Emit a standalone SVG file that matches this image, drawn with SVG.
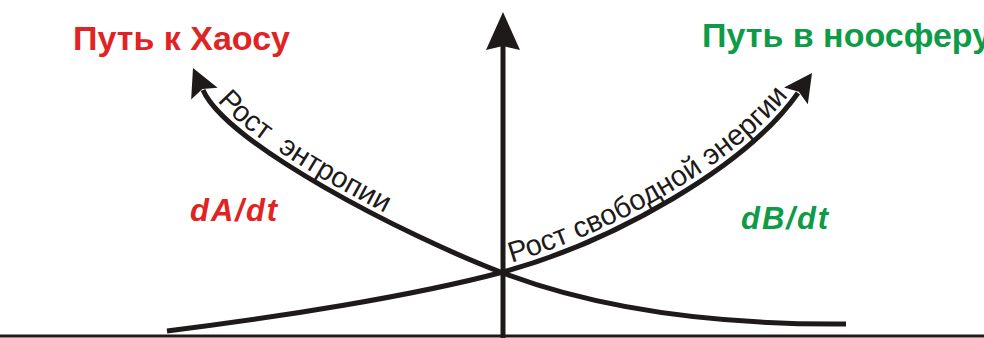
<svg xmlns="http://www.w3.org/2000/svg" xmlns:xlink="http://www.w3.org/1999/xlink" width="984" height="338" viewBox="0 0 984 338">
<style>
.ax{fill:none;stroke:#1e1a1a;}
.cv{fill:none;stroke:#1e1a1a;stroke-width:5;stroke-linecap:butt;}
.ah{fill:#1e1a1a;}
.title{font-family:"Liberation Sans",Arial,sans-serif;font-weight:bold;font-size:34px;}
.der{font-family:"Liberation Sans",Arial,sans-serif;font-weight:bold;font-style:italic;font-size:31px;letter-spacing:2px;}
.lbl{font-family:"Liberation Sans",Arial,sans-serif;fill:#1e1a1a;}
.red{fill:#e02424;}
.green{fill:#0d9b48;}
</style>
<defs>
<path id="head" d="M0,0 L-28,-14.5 L-23,0 L-28,14.5 Z"/>
<path id="headBig" d="M0,0 L-38,-17 L-34,0 L-38,17 Z"/>
<path id="tpA" d="M207,85 C230,138 407,230 507,268"/>
<path id="tpB" d="M500,266 C610,236 743,161 795,87"/>
</defs>
<rect width="984" height="338" fill="#ffffff"/>
<g id="connectors">
<line class="ax" x1="0" y1="336" x2="984" y2="336" stroke-width="3"/>
<line class="ax" x1="503" y1="338" x2="503" y2="45" stroke-width="5"/>
<use href="#headBig" class="ah" transform="translate(503,12) rotate(-90)"/>
<path id="curveA" class="cv" d="M203,90 C226,143 403,235 503,273 C590,306 700,325 846,324"/>
<use href="#head" class="ah" transform="translate(193,68) rotate(-114)"/>
<path id="curveB" class="cv" d="M167,331 C280,317 413,296 503,272 C613,242 746,167 798,93"/>
<use href="#head" class="ah" transform="translate(812,73) rotate(-55)"/>
</g>
<g id="chaos">
<text class="title red" x="73" y="50">Путь к Хаосу</text>
</g>
<g id="noosphere">
<text class="title green" x="702" y="47">Путь в ноосферу</text>
</g>
<g id="dAdt">
<text class="der red" x="190" y="221">dA/dt</text>
</g>
<g id="dBdt">
<text class="der green" x="741" y="229">dB/dt</text>
</g>
<g id="entropy">
<text class="lbl" font-size="29" xml:space="preserve"><textPath href="#tpA" startOffset="19">Рост  энтропии</textPath></text>
</g>
<g id="energy">
<text class="lbl" font-size="29"><textPath href="#tpB" startOffset="12">Рост свободной энергии</textPath></text>
</g>
</svg>
